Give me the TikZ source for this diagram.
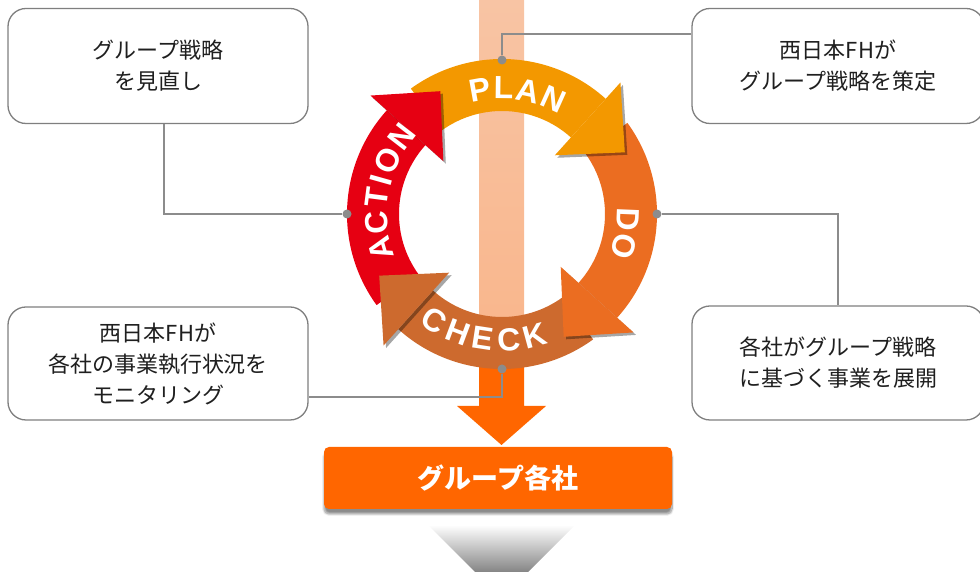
\documentclass[tikz,border=0pt]{standalone}
\usepackage{fontspec}
\setmainfont{Liberation Sans}
\newfontfamily\jfont{Noto Sans CJK JP}
\usetikzlibrary{calc}
\usetikzlibrary{shadows.blur}

\definecolor{plancol}{HTML}{F39800}
\definecolor{docol}{HTML}{EB6D21}
\definecolor{checkcol}{HTML}{CD6A2E}
\definecolor{actcol}{HTML}{E60012}
\definecolor{grpcol}{HTML}{FF6600}
\definecolor{linecol}{HTML}{8C8C8C}
\definecolor{boxline}{HTML}{7F7F7F}
\definecolor{peachA}{HTML}{F8C4A4}
\definecolor{peachB}{HTML}{FBD5BF}
\definecolor{peachC}{HTML}{F9B68C}

\tikzset{
  note/.style={draw=boxline, line width=1.3pt, fill=white, rounded corners=18pt,
    align=center, text=black!88, font=\jfont\fontsize{22}{31}\selectfont,
    minimum height=114pt, inner sep=0pt},
  callout/.style={draw=linecol, line width=1.2pt},
  pin/.style={circle, fill=linecol, inner sep=0pt, minimum size=9pt},
  ringtxt/.style={text=white, inner sep=0pt, font=\fontsize{32}{32}\selectfont\bfseries},
}

\begin{document}
\begin{tikzpicture}[x=1pt, y=1pt]
  \clip (0,0) rectangle (980,572);
  \coordinate (ring) at (502,358);

  % bar down to the group companies
  \shade[top color=peachA, middle color=peachB, bottom color=peachC] (479,572) rectangle (524,232);
  \fill[grpcol] (479,236) -- (479,166) -- (457,166) -- (501.5,127) -- (546,166) -- (524,166) -- (524,236) -- cycle;
  \shade[top color=white, bottom color=black!75] (428,47) -- (575,47) -- (501.5,-26.5) -- cycle;
  \node[fill=grpcol, rounded corners=5pt, minimum width=348pt, minimum height=62pt, text=white,
    font=\jfont\bfseries\fontsize{27}{27}\selectfont,
    blur shadow={shadow xshift=0pt, shadow yshift=-5pt, shadow blur steps=10, shadow opacity=45}]
    (grp) at (498,94) {グループ各社};

  % boxes
  \node[note, minimum width=300pt, minimum height=115pt] (bact) at (158,506) {グループ戦略\\を見直し};
  \node[note, minimum width=292pt, minimum height=115pt] (bplan) at (838,506) {西日本FHが\\グループ戦略を策定};
  \node[note, minimum width=300pt, minimum height=113pt] (bcheck) at (158,208.5) {西日本FHが\\各社の事業執行状況を\\モニタリング};
  \node[note, minimum width=292pt] (bdo) at (838,209) {各社がグループ戦略\\に基づく事業を展開};

  % ring
  \foreach \ang/\col in {48/plancol, -42/docol, -132/checkcol, 138/actcol}
    \fill[\col] ($(ring)+({\ang+78}:155)$) arc[start angle={\ang+78}, end angle=\ang, radius=155pt]
      -- ($(ring)+(\ang:103)$) arc[start angle=\ang, end angle={\ang+78}, radius=103pt] -- cycle;
  \foreach \ang/\col in {48/plancol, -42/docol, -132/checkcol, 138/actcol} {
    \begin{scope}[transform canvas={shift={(2.5pt,-2.5pt)}}]
      \fill[black, opacity=.35] ($(ring)+(\ang:177)$) -- ($(ring)+(\ang:128)+({\ang-90}:50)$) -- ($(ring)+(\ang:79)$) -- cycle;
    \end{scope}
    \fill[\col] ($(ring)+(\ang:177)$) -- ($(ring)+(\ang:128)+({\ang-90}:50)$) -- ($(ring)+(\ang:79)$) -- cycle;
  }

  % ring labels
  \foreach \l/\a in {P/100.2, L/89.3, A/77.9, N/65.8}
    \node[ringtxt, rotate={\a-90}] at ($(ring)+(\a:126)$) {\l};
  \foreach \l/\a in {D/-2.4, O/-14.9}
    \node[ringtxt, rotate={\a-90}] at ($(ring)+(\a:126)$) {\l};
  \foreach \l/\a in {C/237.4, H/249.5, E/261.3, C/273.1, K/285.2}
    \node[ringtxt, rotate={\a+90}] at ($(ring)+(\a:126)$) {\l};
  \foreach \l/\a in {A/196, C/184, T/172.6, I/164.3, O/154.8, N/142.3}
    \node[ringtxt, rotate={\a-90}] at ($(ring)+(\a:126)$) {\l};

  % pins and callouts
  \node[pin] (dplan) at ($(ring)+(90:154)$) {};
  \node[pin] (ddo) at ($(ring)+(0:155)$) {};
  \node[pin] (dcheck) at ($(ring)+(270:155)$) {};
  \node[pin] (dact) at ($(ring)+(180:155)$) {};
  \coordinate (planbend) at (502,538);
  \coordinate (checkbend) at (502,175);
  \draw[callout] (dplan) -- (planbend) -- (planbend -| bplan.west);
  \draw[callout] (ddo) -| (bdo.north);
  \draw[callout] (dcheck) -- (checkbend) -- (checkbend -| bcheck.east);
  \draw[callout] (dact) -| ([xshift=6pt]bact.south);
\end{tikzpicture}
\end{document}
